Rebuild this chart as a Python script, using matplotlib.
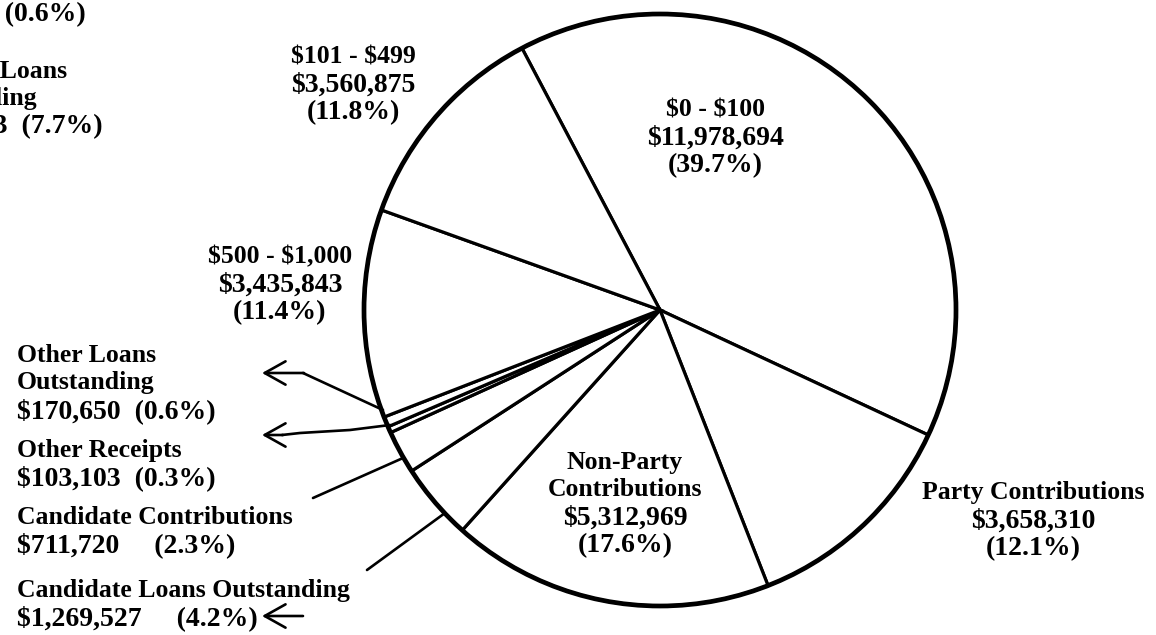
import matplotlib.pyplot as plt
from matplotlib.patches import Circle

# receipts by source (slices clockwise from the top)
sources = ['$0 - $100', 'Party Contributions', 'Non-Party\nContributions',
           'Candidate Loans Outstanding', 'Candidate Contributions',
           'Other Receipts', 'Other Loans\nOutstanding', '$500 - $1,000', '$101 - $499']
amounts = [11978694, 3658310, 5312969, 1269527, 711720, 103103, 170650, 3435843, 3560875]
shares = [39.7, 12.1, 17.6, 4.2, 2.3, 0.3, 0.6, 11.4, 11.8]
# what goes between the amount and the share in each label
joins = ['\n', '\n', '\n', '     ', '     ', '  ', '  ', '\n', '\n']

# bits of the neighbouring chart that were cut off at the left edge
cut_text = ['$181,432  (0.6%)', 'Other Loans', 'Outstanding', '$2,318,763  (7.7%)']

W, H = 1156, 635
FONT = dict(fontweight='bold', family='Liberation Serif', color='black', parse_math=False)
WORD_SIZE, NUM_SIZE = 18.5, 20
STEP = 28

fig = plt.figure(figsize=(W / 100, H / 100), dpi=100)
ax = fig.add_axes([0, 0, 1, 1])

cx, cy, r = 660, H - 310, 296
ax.pie(amounts, startangle=117.8, counterclock=False, center=(cx, cy), radius=r,
       colors=['white'] * len(amounts),
       wedgeprops=dict(edgecolor='black', linewidth=2.3))
ax.add_patch(Circle((cx, cy), r, fill=False, edgecolor='black', linewidth=3.4, zorder=5))


def size_of(s):
    # money/percent lines are printed a touch bigger than the words
    if s[:1] in '$(' and ' - ' not in s:
        return NUM_SIZE
    return WORD_SIZE


def block(x, y, lines, ha='center'):
    # y in picture pixels from the top, one line every STEP pixels
    for i, s in enumerate(lines):
        ax.text(x, H - (y + i * STEP), s, ha=ha, va='center', fontsize=size_of(s), **FONT)


# label anchors in picture pixels
spots = [(715, 110, 'center'), (1033, 493, 'center'), (625, 462, 'center'),
         (17, 590, 'left'), (17, 517, 'left'), (17, 450, 'left'), (17, 355, 'left'),
         (280, 257, 'center'), (353, 57, 'center')]

for name, amt, pct, j, (x, y, ha) in zip(sources, amounts, shares, joins, spots):
    txt = name + '\n' + '${:,}'.format(amt) + j + '({}%)'.format(pct)
    block(x, y, txt.split('\n'), ha)

# cut-off text at the far left
for s, (x, y) in zip(cut_text, [(86, 13), (67, 72), (37, 98), (103, 125)]):
    ax.text(x, H - y, s, ha='right', va='center', fontsize=size_of(s), **FONT)


def line(pts, lw=1.9):
    ax.plot([p[0] for p in pts], [H - p[1] for p in pts], color='black', lw=lw,
            solid_capstyle='round')


def arrow(tip, tail):
    ax.annotate('', xy=(tip[0], H - tip[1]), xytext=(tail[0], H - tail[1]),
                arrowprops=dict(arrowstyle='->, head_length=0.75, head_width=0.42',
                                mutation_scale=20, lw=1.9, color='black',
                                shrinkA=0, shrinkB=0))


# leaders for the thin slices
line([(383, 410), (303, 373)])
arrow((262, 373), (304, 373))
line([(390, 425), (350, 430), (300, 433), (282, 435)])
arrow((262, 435), (283, 435))
line([(403, 458), (313, 498)])
line([(445, 513), (367, 570)])
arrow((262, 616), (303, 616))

ax.set_xlim(0, W)
ax.set_ylim(0, H)
ax.set_aspect('equal')
ax.axis('off')

fig.savefig('out.png', dpi=100, facecolor='white')
